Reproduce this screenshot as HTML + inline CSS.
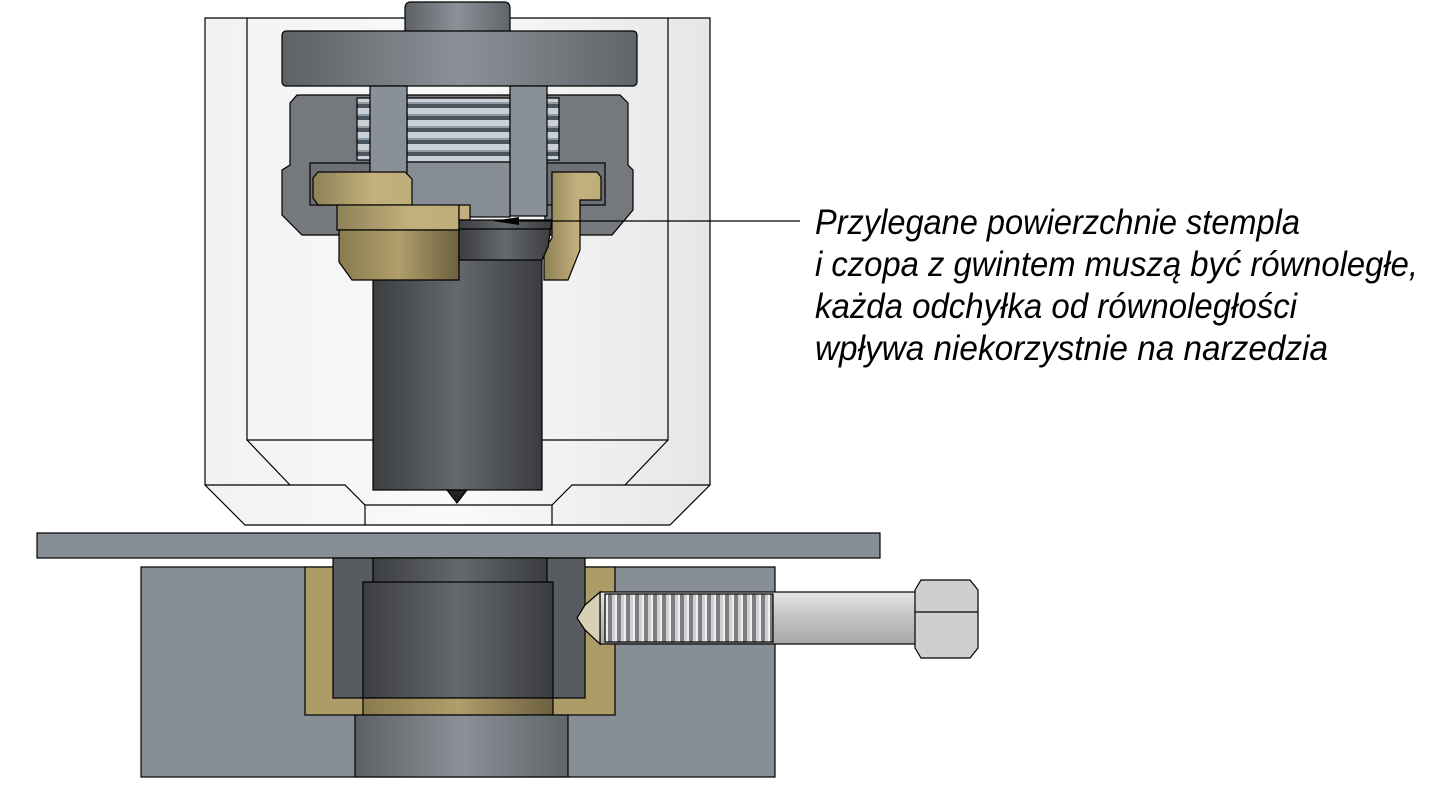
<!DOCTYPE html>
<html><head><meta charset="utf-8"><style>
html,body{margin:0;padding:0;background:#fff;width:1434px;height:791px;overflow:hidden}
svg{display:block}
text{font-family:"Liberation Sans","DejaVu Sans",sans-serif;font-style:italic;font-size:35px;fill:#000}
</style></head><body>
<svg width="1434" height="791" viewBox="0 0 1434 791" xmlns="http://www.w3.org/2000/svg">
<defs>
<linearGradient id="lg" x1="0" x2="1"><stop offset="0" stop-color="#f2f2f2"/><stop offset=".5" stop-color="#fafafa"/><stop offset="1" stop-color="#e6e6e6"/></linearGradient>
<linearGradient id="g1" x1="0" x2="1"><stop offset="0" stop-color="#5d6166"/><stop offset=".5" stop-color="#8b9197"/><stop offset="1" stop-color="#60656a"/></linearGradient>
<linearGradient id="dk" x1="0" x2="1"><stop offset="0" stop-color="#3c3e41"/><stop offset=".5" stop-color="#65686c"/><stop offset="1" stop-color="#3a3c3f"/></linearGradient>
<linearGradient id="br" x1="0" x2="1"><stop offset="0" stop-color="#8e8158"/><stop offset=".6" stop-color="#c3b07c"/><stop offset="1" stop-color="#bfae7a"/></linearGradient>
<linearGradient id="br2" x1="0" x2="1"><stop offset="0" stop-color="#8a7c50"/><stop offset=".5" stop-color="#b09e6a"/><stop offset="1" stop-color="#6c6040"/></linearGradient>
<linearGradient id="bolt" x1="0" y1="0" x2="0" y2="1"><stop offset="0" stop-color="#e6e6e6"/><stop offset=".4" stop-color="#c8c8c8"/><stop offset="1" stop-color="#a8a8a8"/></linearGradient>
<pattern id="thr" width="10" height="12" patternUnits="userSpaceOnUse"><rect width="10" height="12" fill="#c9d0d6"/><rect y="8" width="10" height="4" fill="#4b5560"/><rect y="6" width="10" height="2" fill="#8f9aa4"/></pattern>
<pattern id="thv" width="9" height="10" patternUnits="userSpaceOnUse"><rect width="9" height="10" fill="#d0d0d0"/><rect x="5" width="4" height="10" fill="#7b7f84"/><rect x="3" width="2" height="10" fill="#efefef"/></pattern>
</defs>
<g stroke="#000" stroke-width="1.2">
<polygon points="205,18 710,18 710,485 670,525 245,525 205,485" fill="url(#lg)"/>
<polyline points="247,18 247,440 668,440 668,18" fill="none"/>
<polyline points="205,485 345,485 365,505 552,505 572,485 710,485" fill="none"/>
<line x1="247" y1="440" x2="290" y2="485"/><line x1="668" y1="440" x2="625" y2="485"/>
<line x1="365" y1="505" x2="365" y2="525"/><line x1="552" y1="505" x2="552" y2="525"/>
<rect x="373" y="240" width="169" height="250" fill="url(#dk)"/>
<polygon points="447,490 467,490 457,503" fill="#222"/>
<path d="M405,35 V8 Q405,2 411,2 H504 Q510,2 510,8 V35 Z" fill="url(#g1)"/>
<rect x="282" y="31" width="355" height="55" rx="4" fill="url(#g1)"/>
<polygon points="297,95 620,95 628,103 628,165 633,170 633,210 612,235 545,235 545,215 372,215 372,235 302,235 282,215 282,170 290,165 290,103" fill="#75797e"/>
<rect x="310" y="163" width="295" height="42" fill="#6d7075"/>
<rect x="407" y="98" width="103" height="64" fill="url(#thr)"/>
<rect x="357" y="98" width="14" height="62" fill="url(#thr)"/>
<rect x="545" y="98" width="14" height="62" fill="url(#thr)"/>
<rect x="370" y="86" width="37" height="130" fill="#8a9097"/>
<rect x="510" y="86" width="37" height="130" fill="#8a9097"/>
<rect x="407" y="162" width="103" height="55" fill="#878d94"/>
<polygon points="318,172 405,172 412,179 412,205 318,205 313,198 313,178" fill="url(#br)"/>
<rect x="337" y="205" width="122" height="25" fill="url(#br)"/>
<polygon points="339,230 459,230 459,280 352,280 339,262" fill="url(#br2)"/>
<rect x="459" y="205" width="11" height="15" fill="#c3b07c"/>
<polygon points="552,172 597,172 601,177 601,200 580,200 580,250 568,280 544,280 544,250 552,238" fill="url(#br)"/>
<polygon points="459,220 552,220 548,247 542,260 459,260" fill="url(#dk)"/>
<line x1="459" y1="229" x2="550" y2="229"/>
</g>
<line x1="505" y1="221" x2="800" y2="221" stroke="#000" stroke-width="1.2"/>
<polygon points="493,221 519,217 519,225" fill="#000"/>
<g stroke="#000" stroke-width="1.2">
<rect x="37" y="533" width="843" height="25" fill="#878e95"/>
<rect x="141" y="567" width="634" height="210" fill="#878e95"/>
<rect x="305" y="567" width="310" height="148" fill="#ad9b68"/>
<polygon points="333,558 585,558 585,698 333,698" fill="#585c61"/>
<rect x="373" y="558" width="174" height="25" fill="url(#dk)"/>
<rect x="363" y="582" width="190" height="116" fill="url(#dk)"/>
<rect x="363" y="698" width="190" height="17" fill="url(#br2)"/>
<rect x="355" y="715" width="213" height="62" fill="url(#g1)"/>
<rect x="600" y="592" width="318" height="52" fill="url(#bolt)"/>
<rect x="605" y="594" width="168" height="48" fill="url(#thv)"/>
<polygon points="600,592 585,605 577,618 585,630 600,644" fill="#d8d0b4"/>
<path d="M921,580 H970 L978,590 V648 L970,658 H921 L915,648 V590 Z" fill="#cfcfcf"/>
<line x1="915" y1="612" x2="978" y2="612"/>
</g>
<text x="815" y="234" textLength="485" lengthAdjust="spacingAndGlyphs">Przylegane powierzchnie stempla</text>
<text x="815" y="276" textLength="603" lengthAdjust="spacingAndGlyphs">i czopa z gwintem muszą być równoległe,</text>
<text x="815" y="318" textLength="482" lengthAdjust="spacingAndGlyphs">każda odchyłka od równoległości</text>
<text x="815" y="360" textLength="513" lengthAdjust="spacingAndGlyphs">wpływa niekorzystnie na narzedzia</text>
</svg>
</body></html>
